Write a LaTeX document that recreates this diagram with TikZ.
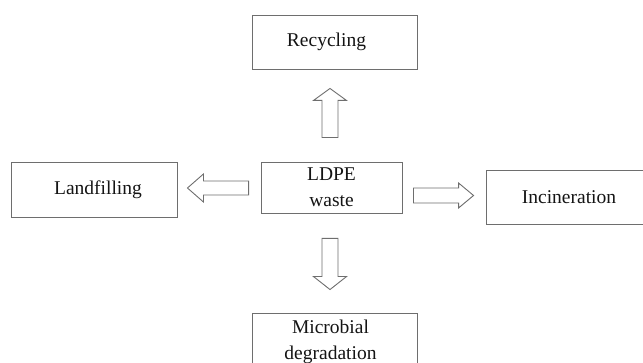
\documentclass[tikz,border=0pt]{standalone}
\usepackage{fontspec}
\setmainfont{Liberation Serif}
\usetikzlibrary{calc}
\definecolor{linec}{HTML}{6E6E6E}
\definecolor{textc}{HTML}{141414}
\tikzset{
  box/.style={draw=linec, line width=0.9pt, text=textc, align=center,
    inner sep=0pt, font=\fontsize{19.5}{26}\selectfont},
  barrow/.style={draw=linec, line width=0.9pt, line join=miter, fill=white}
}
% #1 start, #2 tip, #3 head length, #4 head half width, #5 shaft half width
\newcommand\blockarrow[5]{%
  \coordinate (hb) at ($(#2)!#3!(#1)$);
  \draw[barrow] ($(#1)!#5!90:(#2)$) -- ($(hb)!#5!-90:(#1)$) -- ($(hb)!#4!-90:(#1)$)
    -- (#2) -- ($(hb)!#4!90:(#1)$) -- ($(hb)!#5!90:(#1)$) -- ($(#1)!#5!-90:(#2)$) -- cycle;
}
\begin{document}
\begin{tikzpicture}[x=1pt,y=-1pt]
\useasboundingbox (0,0) rectangle (643,363);
\clip (0,0) rectangle (643,363);
\node[box, minimum width=165pt, minimum height=54pt] (rec) at (334.5,42) {Recycling\hspace*{16pt}};
\node[box, minimum width=166pt, minimum height=55pt] (land) at (94,189.5) {\hspace*{8pt}Landfilling};
\node[box, minimum width=141pt, minimum height=51pt] (ldpe) at (331.5,187.5) {LDPE\\waste};
\node[box, minimum width=174pt, minimum height=54pt] (inc) at (573,197) {Incineration\hspace*{8pt}};
\node[box, minimum width=165pt, minimum height=57pt] (mic) at (334.5,341.5) {Microbial\hspace*{8pt}\\degradation\hspace*{8pt}};
\coordinate (ua) at ($(ldpe.north)+(-1.5,-24)$);
\coordinate (ub) at ($(rec.south)+(-4.5,19)$);
\coordinate (da) at ($(ldpe.south)+(-1.5,25)$);
\coordinate (db) at ($(mic.north)+(-4.5,-23)$);
\coordinate (la) at ($(ldpe.west)+(-12,0.5)$);
\coordinate (lb) at ($(land.east)+(10,-1.5)$);
\coordinate (ra) at ($(ldpe.east)+(11,8)$);
\coordinate (rb) at ($(inc.west)+(-12,-1.5)$);
\blockarrow{ua}{ub}{12pt}{16.5pt}{8pt}
\blockarrow{da}{db}{13pt}{16.5pt}{8pt}
\blockarrow{la}{lb}{16pt}{14pt}{7pt}
\blockarrow{ra}{rb}{15pt}{12.5pt}{7.5pt}
\end{tikzpicture}
\end{document}
